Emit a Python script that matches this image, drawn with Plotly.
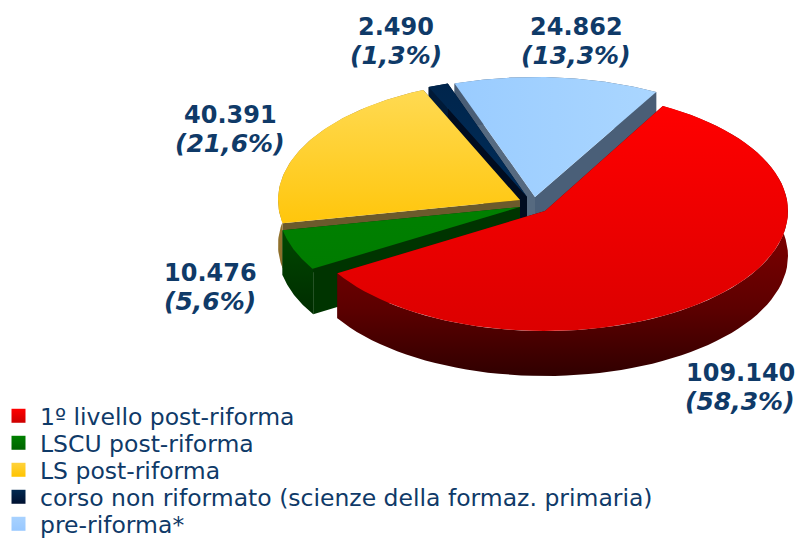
import math
import numpy as np
import plotly.graph_objects as go

categories = ["1º livello post-riforma", "LSCU post-riforma", "LS post-riforma",
              "corso non riformato (scienze della formaz. primaria)", "pre-riforma*"]
values = [109140, 10476, 40391, 2490, 24862]
value_labels = ["109.140", "10.476", "40.391", "2.490", "24.862"]
percent_labels = ["(58,3%)", "(5,6%)", "(21,6%)", "(1,3%)", "(13,3%)"]

# pie geometry (pixel space of the hidden axes)
START_DEG = 29
RY, DEPTH = 120, 45
radii_x = [243, 242, 242, 246, 250]
apexes = [(545, 211), (520, 207), (520, 200), (527, 197), (535, 197)]
label_pos = [(740, 387), (210, 287), (230, 129), (396, 41), (576, 41)]
legend_rows = [416, 443, 470, 497, 524]

# vertical gradients run bottom -> top
top_colors = [["#dc0000", "#ff0000"], ["#007c00", "#008000"], ["#ffc60c", "#ffda52"],
              ["#002c58", "#00254c"], ["#9accff", "#aad6ff"]]
top_dir = ["vertical", "vertical", "vertical", "vertical", "horizontal"]
outer_wall = [["#300000", "#5c0000", "#780000", "#800000", "#800000"],
              ["#002c00", "#003a00", "#004800"],
              ["#8a6c2a", "#a07c30", "#a88436"], ["#001a38", "#001a38", "#001a38"],
              ["#4a5e76", "#4a5e76", "#4a5e76"]]
start_wall = ["#4a0000", "#003400", "#6b5a2c", "#000c20", "#566a80"]
end_wall = ["#4a0000", "#003800", "#4a3c18", "#000c20", "#4a5f78"]
legend_colors = ["#ff0000", "#008000", "#ffd23c", "#002850", "#a8d2ff"]
legend_ends = ["#cc0000", "#006400", "#ffc400", "#001030", "#98c8ff"]
TEXT = "#0f3a68"
FONT = "DejaVu Sans"
W, H = 798, 538


def pt(apex, rx_radius, deg):
    t = math.radians(deg)
    return apex[0] + rx_radius * math.sin(t), apex[1] - RY * math.cos(t)


def poly(fig, xs, ys, colors, direction="vertical"):
    kw = dict(x=xs, y=ys, mode="lines", fill="toself", line=dict(width=0),
              showlegend=False, hoverinfo="skip")
    if len(colors) == 1:
        kw["fillcolor"] = colors[0]
    else:
        n = len(colors) - 1
        kw["fillgradient"] = dict(type=direction,
                                  colorscale=[[i / n, c] for i, c in enumerate(colors)])
    fig.add_trace(go.Scatter(**kw))


total = sum(values)
spans = [v / total * 360 for v in values]
starts = [START_DEG + sum(spans[:i]) for i in range(len(values))]

fig = go.Figure()

# back-to-front painter order: last slice first
for i in reversed(range(len(values))):
    a = apexes[i]
    th = np.linspace(starts[i], starts[i] + spans[i], 80)
    rim = [pt(a, radii_x[i], d) for d in th]
    rx = [p[0] for p in rim]
    ry = [p[1] for p in rim]
    # radial walls, the one with the higher rim point first
    walls = sorted([(0, start_wall[i]), (-1, end_wall[i])], key=lambda w: ry[w[0]])
    for k, col in walls:
        poly(fig, [a[0], rx[k], rx[k], a[0], a[0]],
             [a[1], ry[k], ry[k] + DEPTH, a[1] + DEPTH, a[1]], [col])
    # outer wall
    poly(fig, rx + rx[::-1] + [rx[0]], ry + [y + DEPTH for y in ry[::-1]] + [ry[0]], outer_wall[i])
    # top surface
    poly(fig, [a[0]] + rx + [a[0]], [a[1]] + ry + [a[1]], top_colors[i], top_dir[i])

# legend entries: one native legend per row, to hold the row pitch
legends = {}
for j, (name, c, e, row) in enumerate(zip(categories, legend_colors, legend_ends, legend_rows)):
    key = "legend" if j == 0 else f"legend{j + 1}"
    fig.add_trace(go.Scatter(x=[None], y=[None], mode="markers", name=name, legend=key,
                             showlegend=True,
                             marker=dict(symbol="square", size=14, color=c,
                                         gradient=dict(type="vertical", color=e))))
    legends[key] = dict(x=-3 / W, y=1 - row / H, xanchor="left", yanchor="middle",
                        bgcolor="rgba(0,0,0,0)", font=dict(family=FONT, size=23.5, color=TEXT),
                        itemsizing="trace", itemwidth=33, borderwidth=0)

annotations = []
for p, v, q in zip(label_pos, value_labels, percent_labels):
    annotations.append(dict(x=p[0], y=p[1] - 14.5, xref="x", yref="y", showarrow=False,
                            xanchor="center", yanchor="middle", text=f"<b>{v}</b>",
                            font=dict(family=FONT, size=24, color=TEXT)))
    annotations.append(dict(x=p[0], y=p[1] + 14.5, xref="x", yref="y", showarrow=False,
                            xanchor="center", yanchor="middle", text=f"<b><i>{q}</i></b>",
                            font=dict(family=FONT, size=25, color=TEXT)))

fig.update_layout(
    width=W, height=H, margin=dict(l=0, r=0, t=0, b=0, autoexpand=False),
    paper_bgcolor="white", plot_bgcolor="white", hovermode=False,
    xaxis=dict(range=[0, W], visible=False, fixedrange=True),
    yaxis=dict(range=[H, 0], visible=False, fixedrange=True),
    annotations=annotations,
    **legends,
)

fig.write_html("out.html", config={"displayModeBar": False},
               post_script="document.body.style.margin='0';")
